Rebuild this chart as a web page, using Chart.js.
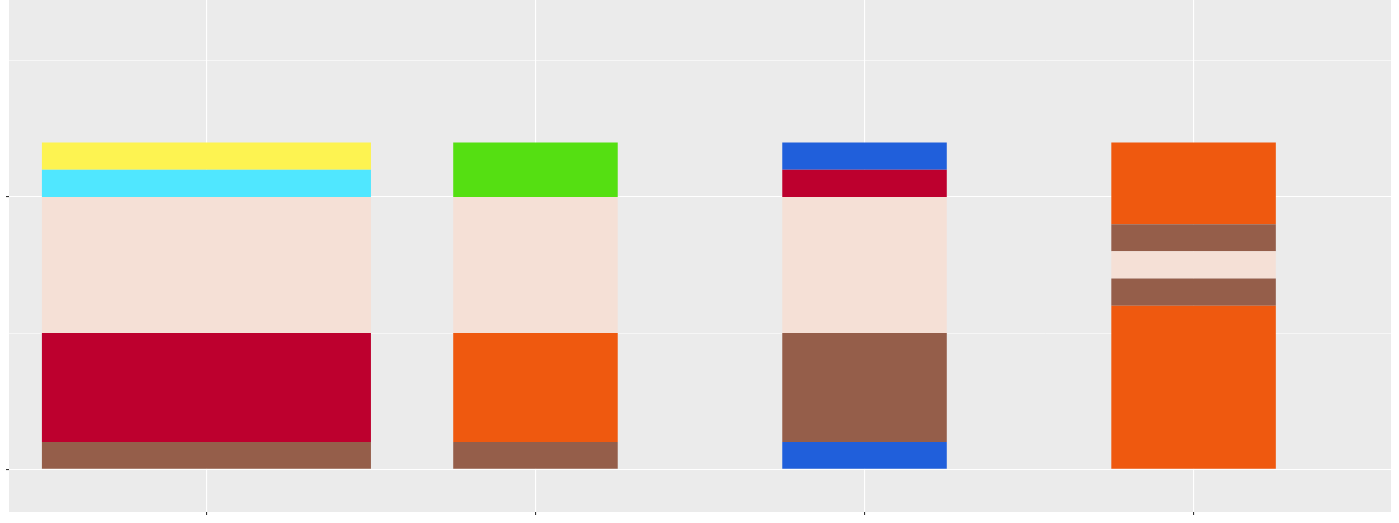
<!DOCTYPE html>
<html>
<head>
<meta charset="utf-8">
<script src="https://cdn.jsdelivr.net/npm/chart.js@4"></script>
<style>
  html, body { margin: 0; padding: 0; background: #ffffff; }
  canvas { display: block; }
</style>
</head>
<body>
<canvas id="c" width="1399" height="523"></canvas>
<script>
// Categories (positions on the discrete x axis are 1..n)
const categories = ['Cartman', 'Kyle', 'Stan', 'Kenny'];
// Stacked segment values per bar, bottom to top
const cartmanValues = [1, 4, 5, 1, 1];
const kyleValues    = [1, 4, 5, 2];
const stanValues    = [1, 4, 5, 1, 1];
const kennyValues   = [6, 1, 1, 1, 3];
// Segment colours per bar, bottom to top
const cartmanColors = ['#955E4A', '#BD002E', '#F5E0D6', '#50E7FF', '#FDF351'];
const kyleColors    = ['#955E4A', '#EF590F', '#F5E0D6', '#55DF12'];
const stanColors    = ['#205FDB', '#955E4A', '#F5E0D6', '#BD002E', '#205FDB'];
const kennyColors   = ['#EF590F', '#955E4A', '#F5E0D6', '#955E4A', '#EF590F'];
// Relative bar widths
const barWidths = [1, 0.5, 0.5, 0.5];
// Tick positions
const yTicks = [0, 5, 10, 15];
const yMajor = [0, 10];

const allValues = [cartmanValues, kyleValues, stanValues, kennyValues];
const allColors = [cartmanColors, kyleColors, stanColors, kennyColors];

const datasets = [];
allValues.forEach((vals, i) => {
  vals.forEach((v, j) => {
    datasets.push({
      label: categories[i] + ' ' + (j + 1),
      data: [{ x: i + 1, y: v }],
      backgroundColor: allColors[i][j],
      borderWidth: 0,
      inflateAmount: 0,
      barPercentage: barWidths[i],
      categoryPercentage: 1
    });
  });
});

const panelBg = {
  id: 'panelBg',
  beforeDraw(chart) {
    const { ctx, chartArea: a } = chart;
    ctx.save();
    ctx.fillStyle = '#EBEBEB';
    ctx.fillRect(a.left, a.top, a.right - a.left, a.bottom - a.top);
    ctx.restore();
  }
};

new Chart(document.getElementById('c'), {
  type: 'bar',
  data: { datasets },
  options: {
    responsive: false,
    animation: false,
    layout: { padding: { left: 6, right: 8, top: 0, bottom: 8 } },
    plugins: { legend: { display: false }, tooltip: { enabled: false } },
    scales: {
      x: {
        type: 'linear',
        stacked: true,
        offset: false,
        min: 0.4,
        max: 4.6,
        border: { display: false },
        grid: {
          offset: false,
          color: '#FFFFFF',
          lineWidth: 1.1,
          tickColor: '#333333',
          tickLength: 3,
          drawTicks: true
        },
        ticks: {
          display: false,
          stepSize: 1,
          includeBounds: false
        },
        afterBuildTicks(scale) {
          scale.ticks = categories.map((c, i) => ({ value: i + 1 }));
        }
      },
      y: {
        type: 'linear',
        stacked: true,
        min: -1.57,
        max: 17.23,
        border: { display: false },
        grid: {
          color: '#FFFFFF',
          lineWidth: (ctx) => (ctx.tick && yMajor.includes(ctx.tick.value)) ? 1.1 : 0.55,
          tickColor: (ctx) => (ctx.tick && yMajor.includes(ctx.tick.value)) ? '#333333' : 'rgba(0,0,0,0)',
          tickLength: 3,
          drawTicks: true
        },
        ticks: {
          display: false,
          includeBounds: false
        },
        afterBuildTicks(scale) {
          scale.ticks = yTicks.map(v => ({ value: v }));
        }
      }
    }
  },
  plugins: [panelBg]
});
</script>
</body>
</html>
